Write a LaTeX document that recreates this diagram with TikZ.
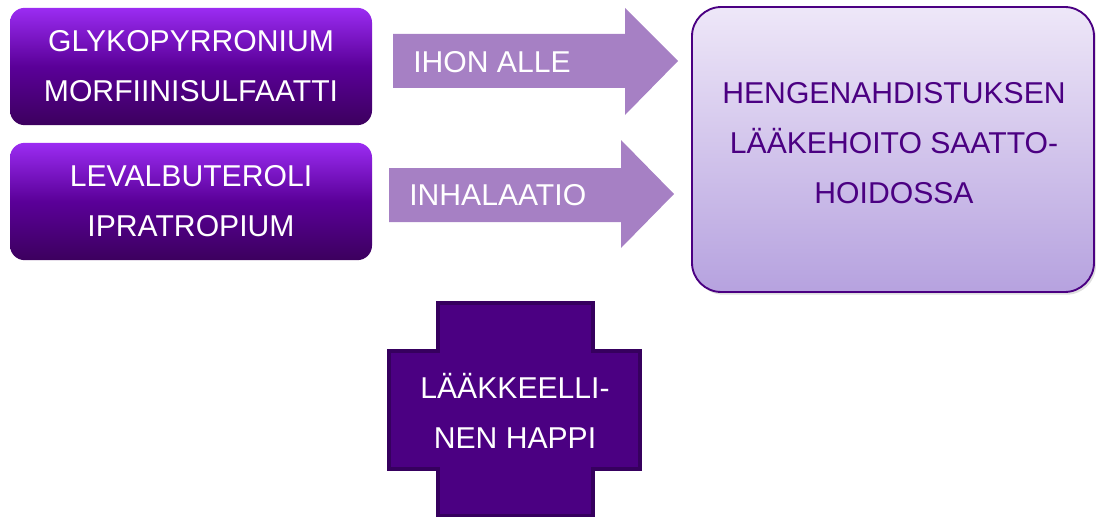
\documentclass[tikz,border=0pt]{standalone}
\usepackage{fontspec}
\setmainfont{Liberation Sans}
\usetikzlibrary{shadows}
\definecolor{boxtop}{HTML}{9B2CF2}
\definecolor{boxmid}{HTML}{5A0098}
\definecolor{boxbot}{HTML}{3C005E}
\definecolor{arrowfill}{HTML}{A680C4}
\definecolor{indigo}{HTML}{4B0082}
\definecolor{indigodark}{HTML}{36005E}
\definecolor{goaltop}{HTML}{EEE7F8}
\definecolor{goalbot}{HTML}{B6A2DF}
\tikzset{
  txt/.style={font=\fontsize{22.6}{37.5}\selectfont, align=center, inner sep=0pt},
  drugbox/.style={rounded corners=11pt, top color=boxtop, bottom color=boxbot,
    middle color=boxmid, draw=none, minimum width=271.5pt, minimum height=88pt,
    txt, text=white},
  routearrow/.style={fill=arrowfill},
  goalbox/.style={rounded corners=22pt, top color=goaltop, bottom color=goalbot,
    draw=indigo, line width=1.4pt, drop shadow={shadow xshift=1.5pt, shadow yshift=-2pt, opacity=0.25}},
  crossshape/.style={fill=indigo, draw=indigodark, line width=2.4pt, line join=miter},
}
\begin{document}
\begin{tikzpicture}[x=0.75pt, y=-0.75pt]
  \useasboundingbox (0,0) rectangle (1096,517);

  % drug boxes
  \node[drugbox] (drugs1) at (191,66.5) {GLYKOPYRRONIUM\\MORFIINISULFAATTI};
  \node[drugbox] (drugs2) at (191,201.5) {LEVALBUTEROLI\\IPRATROPIUM};

  % route arrows
  \fill[routearrow] (393,34) -- (625,34) -- (625,8) -- (678,61) -- (625,115)
    -- (625,88) -- (393,88) -- cycle;
  \node[txt, text=white, anchor=west] (route1) at (413,62) {IHON ALLE};
  \fill[routearrow] (389,168) -- (621,168) -- (621,140) -- (674,194) -- (621,248)
    -- (621,222) -- (389,222) -- cycle;
  \node[txt, text=white, anchor=west] (route2) at (409,195) {INHALAATIO};

  % goal box
  \draw[goalbox] (692,7) rectangle (1094,292);
  \node[txt, text=indigo] (goal) at (894,143)
    {HENGENAHDISTUKSEN\\LÄÄKEHOITO SAATTO-\\HOIDOSSA};

  % oxygen cross
  \draw[crossshape] (438,303) -- (593,303) -- (593,351) -- (640,351) -- (640,469)
    -- (593,469) -- (593,516) -- (438,516) -- (438,469) -- (389,469) -- (389,351)
    -- (438,351) -- cycle;
  \node[txt, text=white] (oxygen) at (515,411) {LÄÄKKEELLI-\\NEN HAPPI};
\end{tikzpicture}
\end{document}
